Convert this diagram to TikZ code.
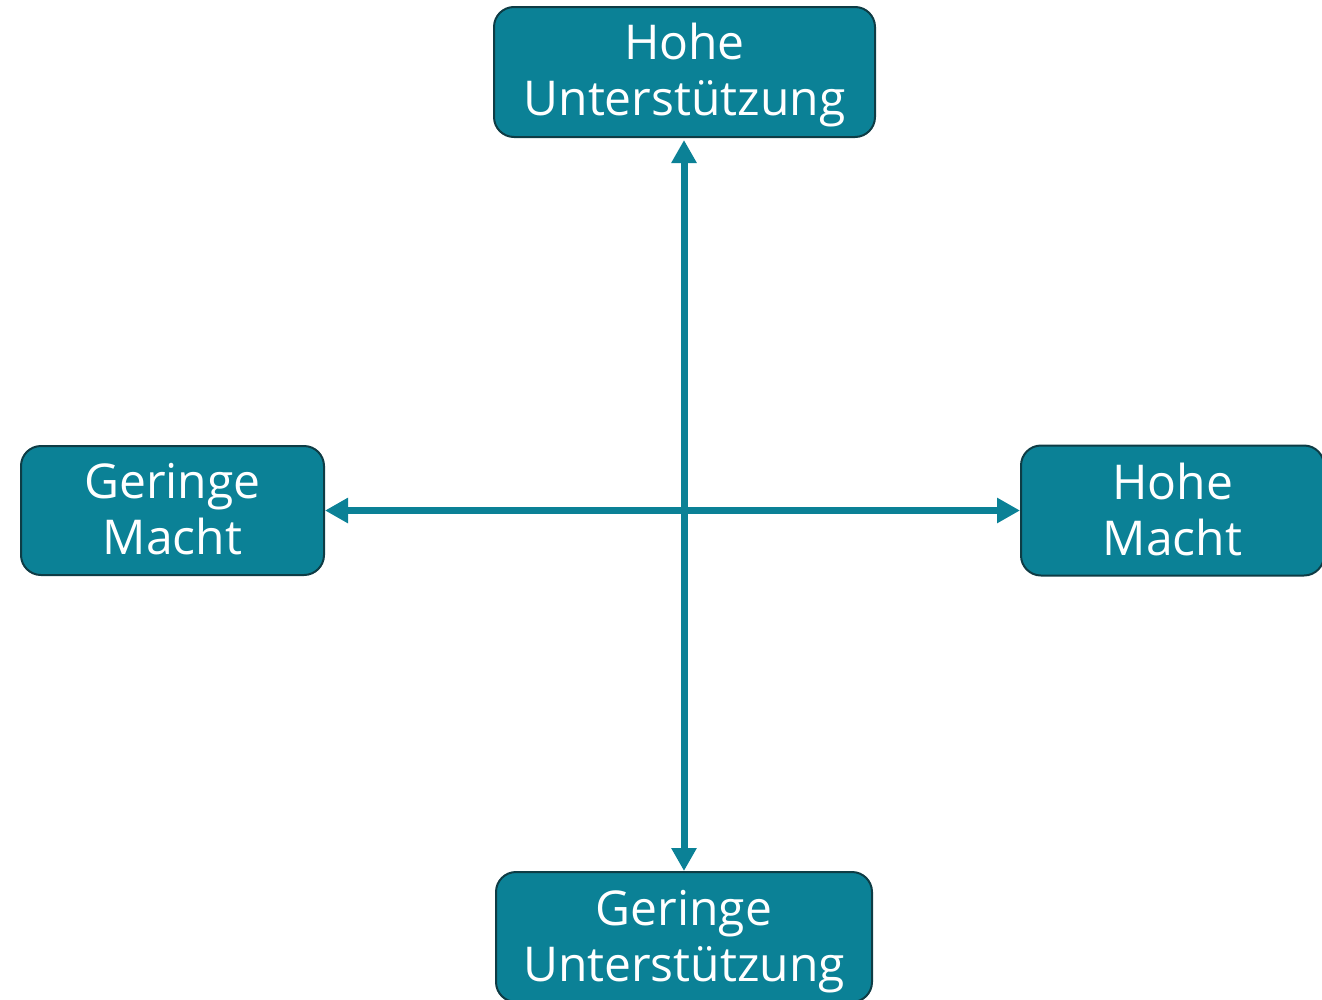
\documentclass[tikz,border=0pt]{standalone}
\usepackage{fontspec}
\setmainfont{Open Sans}
\usetikzlibrary{arrows.meta}
\definecolor{teal1}{HTML}{0B8196}
\definecolor{tealdark}{HTML}{0E3C45}
\tikzset{
  box/.style={draw=tealdark, fill=teal1, line width=2pt, rounded corners=20pt,
    inner sep=0pt, minimum height=130pt},
  txt/.style={text=white, align=center, inner sep=0pt, yshift=-3pt,
    font=\fontsize{48}{56}\selectfont},
  txtb/.style={txt, yshift=4pt},
  conn/.style={draw=teal1, line width=7pt, {Triangle[length=23pt,width=24pt]}-{Triangle[length=23pt,width=24pt]}}
}
\begin{document}
\begin{tikzpicture}[x=1pt,y=-1pt]
\useasboundingbox (0,0) rectangle (1322,999);
\node[box, minimum width=381pt, label={[txt]center:Hohe\\Unterstützung}] (top) at (684.5,72) {};
\node[box, minimum width=303pt, minimum height=129pt, label={[txtb]center:Geringe\\Macht}] (left) at (172.5,510.5) {};
\node[box, minimum width=303pt, label={[txtb]center:Hohe\\Macht}] (right) at (1172.5,510.5) {};
\node[box, minimum width=376pt, label={[txt, yshift=-2pt]center:Geringe\\Unterstützung}] (bottom) at (684,937) {};
\draw[conn] (left.east) -- (right.west);
\draw[conn, shorten <=2pt] (top.south -| 684,0) -- (bottom.north -| 684,0);
\end{tikzpicture}
\end{document}
